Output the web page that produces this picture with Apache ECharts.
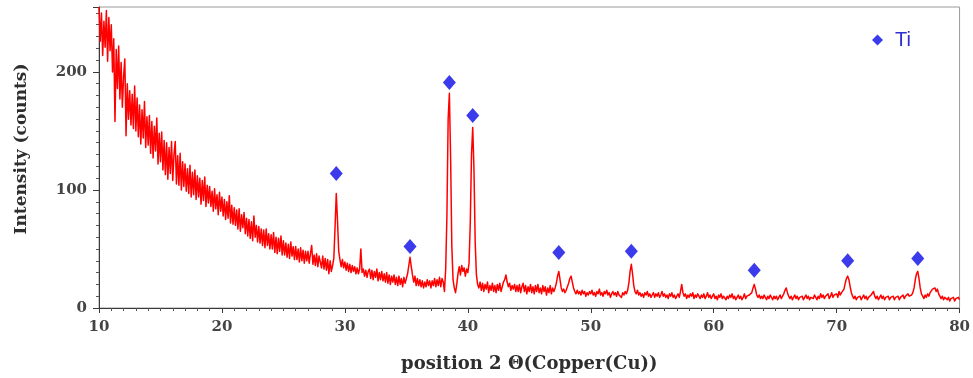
<!DOCTYPE html>
<html>
<head>
<meta charset="utf-8">
<script src="https://cdn.jsdelivr.net/npm/echarts@6/dist/echarts.min.js"></script>
<style>
  html, body { margin: 0; padding: 0; background: #ffffff; }
  #chart { width: 973px; height: 378px; }
</style>
</head>
<body>
<div id="chart"></div>
<script>
// XRD scan: 2θ from 10° to 80°, step 0.1° (one row = one degree)
const scanStart = 10;
const scanStep = 0.1;
const counts = [
  255, 226, 250, 214, 243, 221, 252, 209, 246, 218,   // 10
  240, 200, 228, 158, 219, 186, 222, 177, 208, 170,   // 11
  196, 211, 146, 190, 160, 184, 155, 181, 152, 188,   // 12
  150, 178, 145, 172, 139, 168, 144, 175, 136, 162,   // 13
  138, 163, 131, 158, 127, 154, 133, 161, 122, 148,   // 14
  124, 149, 117, 142, 113, 140, 109, 136, 114, 141,   // 15
  108, 130, 141, 105, 129, 104, 131, 100, 124, 103,   // 16
  122, 99, 118, 97, 121, 94, 115, 96, 117, 92,        // 17
  112, 94, 110, 88, 108, 91, 111, 86, 104, 89,        // 18
  103, 86, 99, 82, 101, 84, 96, 79, 98, 82,           // 19
  94, 78, 92, 75, 90, 76, 95, 72, 87, 71,             // 20
  85, 70, 83, 67, 84, 65, 79, 68, 81, 63,             // 21
  76, 61, 75, 59, 73, 57, 78, 60, 70, 56,             // 22
  69, 55, 67, 53, 66, 51, 67, 53, 63, 50,             // 23
  62, 50, 64, 47, 60, 46, 59, 48, 61, 45,             // 24
  57, 45, 55, 43, 54, 42, 56, 44, 52, 41,             // 25
  52, 41, 50, 39, 51, 40, 49, 38, 48, 40,             // 26
  48, 38, 46, 53, 37, 45, 36, 46, 35, 44,             // 27
  43, 34, 44, 33, 42, 32, 41, 29, 40, 31,             // 28
  36, 42, 68, 97, 74, 48, 41, 35, 41, 34,             // 29
  39, 32, 38, 31, 37, 30, 36, 31, 35, 29,             // 30
  34, 29, 33, 50, 30, 33, 27, 32, 26, 31,             // 31
  33, 25, 32, 24, 31, 26, 33, 23, 30, 24,             // 32
  31, 23, 29, 22, 30, 21, 28, 20, 27, 22,             // 33
  28, 20, 26, 19, 27, 20, 25, 18, 26, 21,             // 34
  25, 29, 36, 43, 35, 28, 22, 27, 19, 25,             // 35
  19, 24, 18, 23, 17, 22, 18, 24, 19, 23,             // 36
  17, 23, 19, 25, 18, 24, 19, 26, 18, 25,             // 37
  22, 14, 33, 78, 160, 182, 128, 52, 24, 17,          // 38
  13, 20, 29, 35, 28, 36, 31, 34, 27, 33,             // 39
  30, 38, 72, 130, 153, 118, 56, 28, 20, 17,          // 40
  22, 15, 21, 14, 20, 16, 22, 13, 19, 15,             // 41
  21, 14, 19, 13, 20, 15, 21, 14, 18, 22,             // 42
  24, 28, 22, 18, 21, 15, 19, 16, 20, 14,             // 43
  19, 14, 20, 13, 18, 21, 14, 19, 12, 18,             // 44
  14, 20, 13, 18, 12, 19, 14, 20, 13, 17,             // 45
  12, 19, 14, 18, 11, 17, 13, 19, 12, 17,             // 46
  14, 17, 21, 27, 31, 24, 17, 14, 16, 13,             // 47
  15, 18, 21, 25, 27, 22, 17, 14, 12, 15,             // 48
  12, 14, 11, 15, 12, 14, 10, 13, 11, 14,             // 49
  12, 15, 11, 13, 10, 14, 12, 16, 11, 13,             // 50
  10, 14, 12, 15, 11, 13, 9, 12, 14, 11,              // 51
  13, 10, 14, 11, 12, 9, 13, 11, 14, 12,              // 52
  15, 21, 31, 37, 29, 19, 14, 12, 15, 11,             // 53
  13, 10, 12, 9, 13, 11, 14, 10, 12, 9,               // 54
  11, 13, 9, 12, 10, 13, 9, 11, 14, 10,               // 55
  12, 9, 11, 8, 12, 10, 13, 9, 11, 8,                 // 56
  10, 12, 9, 14, 20, 13, 10, 12, 8, 11,               // 57
  9, 12, 10, 13, 8, 11, 9, 12, 10, 8,                 // 58
  11, 9, 12, 8, 10, 13, 9, 11, 8, 10,                 // 59
  12, 8, 10, 7, 11, 9, 12, 8, 10, 9,                  // 60
  7, 10, 8, 11, 9, 12, 8, 10, 7, 9,                   // 61
  11, 8, 10, 7, 9, 12, 8, 10, 9, 11,                  // 62
  10, 13, 17, 20, 16, 11, 9, 11, 8, 10,               // 63
  8, 11, 9, 7, 10, 8, 11, 9, 7, 10,                   // 64
  8, 10, 7, 9, 11, 8, 10, 12, 15, 17,                 // 65
  13, 10, 8, 10, 7, 9, 11, 8, 10, 7,                  // 66
  9, 8, 10, 7, 9, 11, 8, 10, 7, 9,                    // 67
  10, 8, 11, 9, 7, 10, 8, 12, 9, 11,                  // 68
  8, 10, 9, 12, 8, 10, 13, 9, 11, 10,                 // 69
  12, 9, 14, 11, 13, 12, 16, 21, 25, 27,              // 70
  24, 18, 13, 10, 8, 10, 7, 9, 8, 10,                 // 71
  7, 9, 11, 8, 10, 7, 9, 8, 11, 12,                   // 72
  14, 10, 8, 10, 7, 9, 11, 8, 10, 7,                  // 73
  9, 8, 10, 7, 9, 8, 10, 7, 9, 8,                     // 74
  10, 7, 9, 8, 11, 8, 10, 9, 12, 10,                  // 75
  9, 11, 13, 17, 24, 29, 31, 25, 17, 12,              // 76
  10, 8, 11, 9, 12, 10, 13, 14, 16, 15,               // 77
  17, 14, 16, 12, 10, 8, 10, 7, 9, 8,                 // 78
  7, 9, 6, 8, 7, 9, 6, 8, 7, 9,                       // 79
  7                                                   // 80
];

// Ti reflections (2θ) and the height of their markers
const tiAngles = [29.3, 35.3, 38.5, 40.4, 47.4, 53.3, 63.3, 70.9, 76.6];
const tiMarks  = [114, 52, 191, 163, 47, 48, 32, 40, 42];

// labelled ticks
const xTickLabels = [10, 20, 30, 40, 50, 60, 70, 80];
const yTickLabels = [0, 100, 200];

const scan = counts.map((c, i) => [+(scanStart + i * scanStep).toFixed(1), c]);
const tiPoints = tiAngles.map((a, i) => [a, tiMarks[i]]);

const serifBold = { fontFamily: 'DejaVu Serif', fontWeight: 'bold' };

const chart = echarts.init(document.getElementById('chart'), null, { renderer: 'canvas' });

chart.setOption({
  animation: false,
  backgroundColor: '#ffffff',
  grid: {
    left: 99, right: 12, top: 7, bottom: 69,
    show: true, borderColor: '#9a9a9a', borderWidth: 1
  },
  legend: {
    data: ['Ti'],
    left: 867, top: 25,
    icon: 'diamond',
    itemWidth: 11, itemHeight: 11,
    textStyle: { color: '#2f2fd0', fontSize: 20, fontFamily: 'Liberation Sans', padding: [0, 0, 0, 7] }
  },
  xAxis: [{
    type: 'value', min: 10, max: 80, interval: 10,
    name: 'position 2 Θ(Copper(Cu))',
    nameLocation: 'middle', nameGap: 47,
    nameTextStyle: Object.assign({ color: '#2e2e2e', fontSize: 18 }, serifBold),
    axisLine: { show: true, onZero: false, lineStyle: { color: '#3a3a3a', width: 1 } },
    axisTick: { show: true, length: 5, lineStyle: { color: '#3a3a3a' } },
    minorTick: { show: true, splitNumber: 10, length: 3, lineStyle: { color: '#555' } },
    splitLine: { show: false },
    axisLabel: Object.assign({
      color: '#444', fontSize: 15, margin: 12,
      formatter: v => (xTickLabels.includes(v) ? String(v) : '')
    }, serifBold)
  }],
  yAxis: [{
    // fine ticks every 10 counts, labels at 0 / 100 / 200
    type: 'value', min: 0, max: 255, interval: 10,
    axisLine: { show: true, onZero: false, lineStyle: { color: '#3a3a3a', width: 1 } },
    axisTick: { show: true, length: 3, lineStyle: { color: '#555' } },
    splitLine: { show: false },
    axisLabel: Object.assign({
      color: '#444', fontSize: 15, margin: 12,
      formatter: v => (yTickLabels.includes(v) ? String(v) : '')
    }, serifBold)
  }, {
    // longer major ticks at every 100 counts
    type: 'value', min: 0, max: 255, interval: 100, position: 'left',
    axisLine: { show: false },
    axisTick: { show: true, length: 6, lineStyle: { color: '#3a3a3a' } },
    splitLine: { show: false },
    axisLabel: { show: false }
  }],
  graphic: [{
    type: 'text',
    x: 22, y: 149,
    rotation: Math.PI / 2,
    style: Object.assign({
      text: 'Intensity (counts)',
      fill: '#2e2e2e', fontSize: 17,
      textAlign: 'center', textVerticalAlign: 'middle'
    }, serifBold)
  }],
  series: [{
    name: 'scan',
    type: 'line',
    data: scan,
    showSymbol: false,
    symbol: 'none',
    lineStyle: { color: '#ff0000', width: 1.5, join: 'round' },
    z: 2
  }, {
    name: 'Ti',
    type: 'scatter',
    data: tiPoints,
    symbol: 'diamond',
    symbolSize: [13, 15],
    itemStyle: { color: '#0a0ae6' },
    z: 3
  }]
});
</script>
</body>
</html>
